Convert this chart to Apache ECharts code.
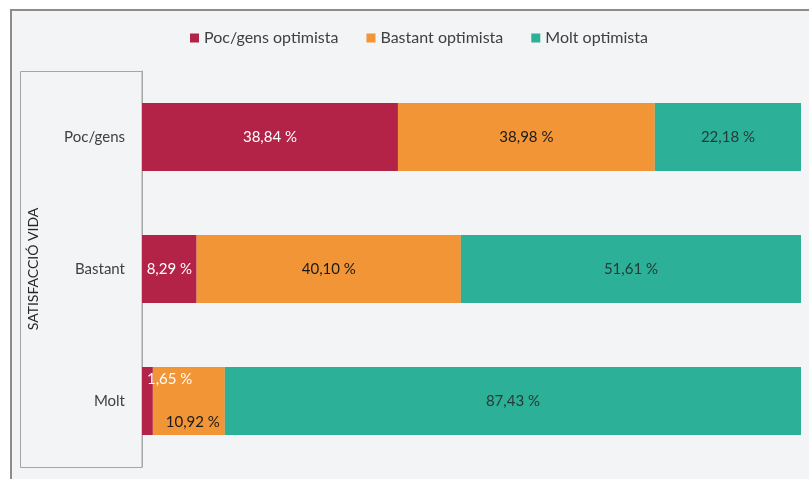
<!DOCTYPE html>
<html>
<head>
<meta charset="utf-8">
<script src="https://cdn.jsdelivr.net/npm/echarts@6/dist/echarts.min.js"></script>
<style>
  html, body { margin: 0; padding: 0; background: #fff; }
  #chart { width: 809px; height: 479px; }
</style>
</head>
<body>
<div id="chart"></div>
<script>
// dades
var categories = ['Poc/gens', 'Bastant', 'Molt'];
var seriesNames = ['Poc/gens optimista', 'Bastant optimista', 'Molt optimista'];
var pocValues = [38.84, 8.29, 1.65];
var bastantValues = [38.98, 40.10, 10.92];
var moltValues = [22.18, 51.61, 87.43];
var colors = ['#b22347', '#f19537', '#2db098'];

(function() {
    var myChart = echarts.init(document.getElementById('chart'));

    function fmt(p) {
        return p.value.toFixed(2).replace('.', ',') + ' %';
    }

    // etiquetes especials per a la fila "Molt" (segments petits)
    var pocData = pocValues.map(function(v, i) {
        if (i === 2) {
            return { value: v, label: { position: 'insideTopLeft', distance: 5 } };
        }
        return v;
    });
    var bastantData = bastantValues.map(function(v, i) {
        if (i === 2) {
            return { value: v, label: { position: 'insideBottomRight', distance: 5 } };
        }
        return v;
    });

    function makeSeries(name, data, color, labelColor) {
        return {
            name: name,
            type: 'bar',
            stack: 'total',
            barCategoryGap: '48.5%',
            data: data,
            itemStyle: { color: color },
            label: {
                show: true,
                position: 'inside',
                color: labelColor,
                fontSize: 15,
                fontFamily: 'Lato',
                formatter: fmt
            }
        };
    }

    var option = {
        backgroundColor: '#ffffff',
        color: colors,
        graphic: [{
            type: 'rect',
            z: -10,
            shape: { x: 11, y: 10, width: 820, height: 500 },
            style: { fill: '#f3f4f6', stroke: '#8c8c8c', lineWidth: 2 }
        }, {
            type: 'rect',
            z: -5,
            shape: { x: 20.5, y: 71.5, width: 121.5, height: 396 },
            style: { fill: 'none', stroke: '#a6a6a6', lineWidth: 1 }
        }],
        legend: {
            top: 25,
            left: 185,
            icon: 'rect',
            itemWidth: 9,
            itemHeight: 9,
            itemGap: 28,
            textStyle: { color: '#404040', fontSize: 16, fontFamily: 'Lato' },
            data: seriesNames
        },
        grid: {
            left: 142,
            right: 8,
            top: 71,
            height: 396
        },
        xAxis: {
            type: 'value',
            min: 0,
            max: 100,
            show: false
        },
        yAxis: {
            type: 'category',
            data: categories,
            inverse: true,
            name: 'SATISFACCIÓ VIDA',
            nameLocation: 'middle',
            nameGap: 102,
            nameTextStyle: { color: '#262626', fontSize: 14, fontFamily: 'Lato' },
            axisLine: { lineStyle: { color: '#a6a6a6' } },
            axisTick: { show: false },
            axisLabel: { color: '#404040', fontSize: 15, fontFamily: 'Lato', margin: 17 }
        },
        series: [
            makeSeries(seriesNames[0], pocData, colors[0], '#ffffff'),
            makeSeries(seriesNames[1], bastantData, colors[1], '#1a1a1a'),
            makeSeries(seriesNames[2], moltValues, colors[2], '#263a36')
        ]
    };

    myChart.setOption(option);
})();
</script>
</body>
</html>
